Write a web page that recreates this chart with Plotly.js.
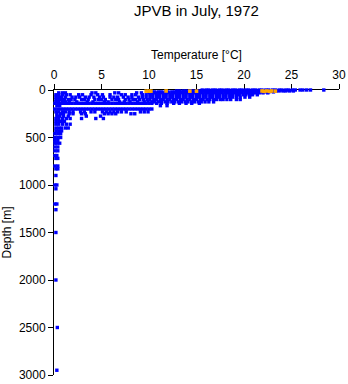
<!DOCTYPE html>
<html><head><meta charset="utf-8">
<script src="https://cdn.plot.ly/plotly-3.0.1.min.js"></script>
<style>html,body{margin:0;padding:0;background:#fff}#chart{width:348px;height:384px}</style>
</head><body><div id="chart"></div>
<script>
// Depth levels [m] and the temperatures [°C] read at each level
const DEPTHS = [0,10,20,30,50,75,100,125,140,165,200,230,250,275,300,330,360,400,430,460,500,530,560,600,640,690,720,800,830,900,1000,1040,1200,1260,1500,2000,2500,2950];
const T_0 = [15.6,16.0,16.3,16.7,17.0,17.4,17.7,18.1,18.4,18.8,19.1,19.5,19.8,20.2,20.5,20.9,21.2,21.6,21.9,22.3,22.6,23.0,23.3,23.7,24.0,24.4,24.7,25.1,25.4,25.9,26.2,26.6,27.0,28.4];
const T_10 = [12.9,13.2,13.6,13.9,14.3,14.6,15.0,15.3,15.7,16.0,16.4,16.7,17.1,17.4,17.8,18.1,18.5,18.8,19.2,19.5,19.9,20.2,20.6,20.9,21.3,21.6,22.0,22.3,22.7,23.0,23.4,23.7,24.1,24.4,24.8,25.2];
const T_20 = [10.3,10.6,11.0,11.3,11.7,12.0,12.4,12.7,13.1,13.4,13.8,14.1,14.5,14.8,15.2,15.5,15.9,16.2,16.6,16.9,17.3,17.6,18.0,18.3,18.7,19.0,19.4,19.7,20.1,20.4,20.8,21.1,21.5,21.8,22.2,22.6,23.1];
const T_30 = [0.5,0.9,1.2,4.0,4.4,6.4,6.8,8.7,9.2,10.0,10.4,10.7,11.1,11.4,11.8,12.1,12.5,12.8,13.2,13.5,13.9,14.2,14.6,14.9,15.3,15.6,16.0,16.3,16.7,17.0,17.4,17.7,18.1,18.4,18.8,19.1,19.5,19.8,20.2,20.5,20.9,21.2,21.6,22.0,22.5];
const T_50 = [0.2,0.5,0.9,1.3,1.7,2.6,3.0,3.9,4.6,5.1,5.9,7.1,7.5,8.2,8.6,9.3,9.7,10.1,10.4,10.8,11.1,11.5,11.8,12.2,12.5,12.9,13.2,13.6,13.9,14.3,14.6,15.0,15.3,15.7,16.0,16.4,16.7,17.1,17.4,17.8,18.1,18.5,18.8,19.2,19.5,19.9,20.2,20.6,20.9,21.4];
const T_75 = [0.2,0.5,0.8,1.2,1.9,2.3,2.7,3.3,3.7,4.2,4.8,5.2,5.9,6.3,6.7,7.3,7.8,8.2,8.9,9.3,9.7,10.1,10.4,10.8,11.1,11.5,11.8,12.2,12.5,12.9,13.2,13.6,13.9,14.3,14.6,15.0,15.3,15.7,16.0,16.4,16.7,17.1,17.4,17.8,18.1,18.5,18.8,19.2,19.6,20.1,20.6];
const T_100 = [0.2,0.5,0.8,1.1,1.5,1.8,2.2,2.9,3.2,3.6,4.3,4.7,5.0,5.4,6.1,6.5,6.8,7.5,7.9,8.3,8.6,9.0,9.4,9.8,10.1,10.5,10.8,11.2,11.5,11.9,12.2,12.6,12.9,13.3,13.6,14.0,14.3,14.7,15.0,15.4,15.7,16.1,16.4,16.8,17.1,17.5,17.8,18.2,18.6,19.2,19.6];
const T_125 = [0.2,0.5,0.9,1.2,1.6,2.4,3.5,4.1,5.3,5.7,6.9,7.4,8.0,8.8,9.5,9.9,10.3,10.6,11.0,11.3,11.7,12.0,12.4,12.7,13.1,13.4,13.8,14.1,14.5,14.8,15.2,15.5,15.9,16.3,16.8];
const T_140 = [0.1,0.4,0.7,1.0,1.3,1.6,1.9,2.2,2.5,2.8,3.1,3.4,3.7,4.0,4.3,4.6,4.9,5.2,5.5,5.8,6.1,6.4,6.7,7.0,7.3,7.6,7.9,8.2,8.5,8.8,9.1,9.4,9.7,10.0,10.3,10.8,11.3,11.9,12.6,13.2,13.9,14.5,15.3];
const T_165 = [0.3,0.6,11.2,11.9];
const T_200 = [0.1,0.4,0.7,1.0,1.3,1.6,1.9,2.2,2.5,2.8,3.1,3.4,3.7,4.0,4.3,4.6,4.9,5.2,5.5,5.8,6.1,6.4,6.7,7.0,7.3,7.6,7.9,8.2,8.5,8.8,9.1,9.4,9.7,10.0,10.3];
const T_230 = [0.2,0.5,0.9,1.2,1.6,2.0,2.8,3.2,3.9,4.3,5.1,5.5,5.9,6.3,6.7,7.1,7.6,9.1,9.5,9.9];
const T_250 = [0.3,0.7,1.0,1.6,2.0,2.9,3.3,5.3,5.7,6.1,6.5,8.1,8.5];
const T_275 = [0.3,0.6,1.0,1.5,3.4,4.9];
const T_300 = [0.2,0.5,0.9,1.3,1.7,2.9,4.4,5.2];
const T_330 = [0.2,0.5,0.8,1.1];
const T_360 = [0.2,0.5,0.9,1.3,1.7];
const T_400 = [0.2,0.5,0.8,1.2,1.5];
const T_430 = [0.2,0.5,0.8];
const T_460 = [0.1,0.4,0.7];
const T_500 = [0.1,0.4,0.7];
const T_530 = [0.1,0.4];
const T_560 = [0.1,0.3,0.6];
const T_600 = [0.1,0.4];
const T_640 = [0.1,0.4];
const T_690 = [0.1,0.3];
const T_720 = [0.2,0.4];
const T_800 = [0.1,0.4];
const T_830 = [0.2,0.4];
const T_900 = [0.2];
const T_1000 = [0.1,0.3];
const T_1040 = [0.2];
const T_1200 = [0.1,0.3];
const T_1260 = [0.2];
const T_1500 = [0.2];
const T_2000 = [0.2];
const T_2500 = [0.35];
const T_2950 = [0.3];
const LEVEL_TEMPS = [T_0,T_10,T_20,T_30,T_50,T_75,T_100,T_125,T_140,T_165,T_200,T_230,T_250,T_275,T_300,T_330,T_360,T_400,T_430,T_460,T_500,T_530,T_560,T_600,T_640,T_690,T_720,T_800,T_830,T_900,T_1000,T_1040,T_1200,T_1260,T_1500,T_2000,T_2500,T_2950];

// Flagged (orange) surface samples
const ORANGE_TEMPS = [9.7,10.0,10.2,11.8,14.3,15.0,21.9,22.1,22.4,22.7,22.9,23.3];
const ORANGE_DEPTHS = [12,12,12,10,12,12,10,14,10,14,10,12];

const bx = [], by = [];
DEPTHS.forEach((d, i) => { LEVEL_TEMPS[i].forEach(t => { bx.push(t); by.push(d); }); });

const traces = [
  {type:'scatter', mode:'markers', x:bx, y:by, cliponaxis:false,
   marker:{symbol:'square', size:3.4, color:'#0000ff', line:{width:0}}, hoverinfo:'skip'},
  {type:'scatter', mode:'markers', x:ORANGE_TEMPS, y:ORANGE_DEPTHS, cliponaxis:false,
   marker:{symbol:'square', size:3.6, color:'#ffa500', line:{width:0}}, hoverinfo:'skip'}
];

const layout = {
  width:348, height:384,
  margin:{l:54, r:9, t:90, b:9},
  paper_bgcolor:'#ffffff', plot_bgcolor:'#ffffff',
  showlegend:false,
  font:{family:'Liberation Sans, Arial, sans-serif', size:12, color:'#000'},
  title:{text:'JPVB in July, 1972', font:{size:15, color:'#000'}, xref:'paper', x:0.5, xanchor:'center', yref:'container', y:0.985, yanchor:'top'},
  xaxis:{side:'top', range:[0,30], dtick:5, tick0:0, ticks:'outside', ticklen:5, tickcolor:'#000',
         showline:true, linecolor:'#000', linewidth:1, showgrid:false, zeroline:false, layer:'below traces',
         tickfont:{size:12}, title:{text:'Temperature [°C]', font:{size:12}, standoff:6}},
  yaxis:{range:[3000,0], dtick:500, tick0:0, ticks:'outside', ticklen:5, tickcolor:'#000',
         showline:true, linecolor:'#000', linewidth:1, showgrid:false, zeroline:false, layer:'below traces',
         tickfont:{size:12}, title:{text:'Depth [m]', font:{size:12}, standoff:4}}
};

Plotly.newPlot('chart', traces, layout, {displayModeBar:false, staticPlot:true});
</script>
</body></html>
